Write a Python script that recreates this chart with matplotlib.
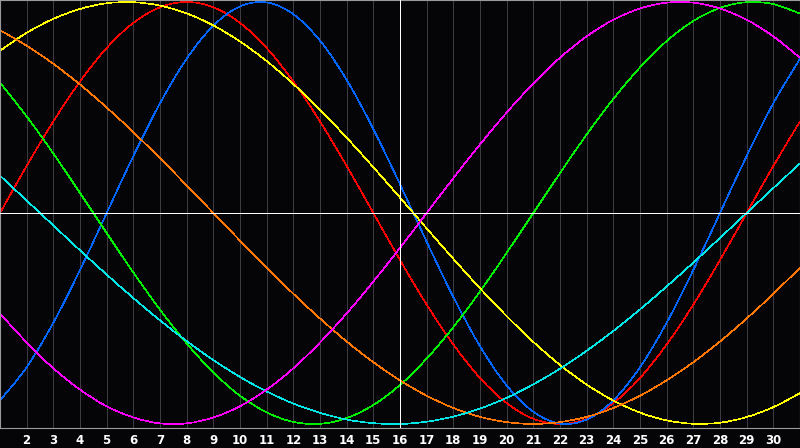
import matplotlib
matplotlib.use("Agg")
import matplotlib.pyplot as plt
from matplotlib.path import Path
from matplotlib.patches import PathPatch

# Days of the month shown on the chart
days = list(range(1, 32))
tick_days = list(range(2, 31))

# Cycle values per day (-1 .. 1)
red = [0.000, 0.223, 0.434, 0.623, 0.782, 0.901, 0.975, 1.000, 0.975, 0.901, 0.782,
       0.623, 0.434, 0.223, 0.000, -0.223, -0.434, -0.623, -0.782, -0.901, -0.975,
       -1.000, -0.975, -0.901, -0.782, -0.623, -0.434, -0.223, 0.000, 0.223, 0.434]
blue = [-0.888, -0.731, -0.520, -0.270, 0.000, 0.270, 0.520, 0.731, 0.888, 0.979, 0.998,
        0.942, 0.817, 0.631, 0.398, 0.136, -0.136, -0.398, -0.631, -0.817, -0.942,
        -0.998, -0.979, -0.888, -0.731, -0.520, -0.270, 0.000, 0.270, 0.520, 0.731]
green = [0.618, 0.458, 0.282, 0.095, -0.095, -0.282, -0.458, -0.618, -0.756, -0.866, -0.945,
         -0.990, -0.999, -0.972, -0.910, -0.815, -0.690, -0.541, -0.372, -0.189, 0.000,
         0.189, 0.372, 0.541, 0.690, 0.815, 0.910, 0.972, 0.999, 0.990, 0.945]
yellow = [0.769, 0.854, 0.920, 0.967, 0.994, 0.999, 0.983, 0.946, 0.889, 0.813, 0.720,
          0.611, 0.489, 0.357, 0.217, 0.073, -0.073, -0.217, -0.357, -0.489, -0.611,
          -0.720, -0.813, -0.889, -0.946, -0.983, -0.999, -0.994, -0.967, -0.920, -0.854]
orange = [0.866, 0.793, 0.707, 0.609, 0.500, 0.383, 0.259, 0.131, 0.000, -0.131, -0.259,
          -0.383, -0.500, -0.609, -0.707, -0.793, -0.866, -0.924, -0.966, -0.991, -1.000,
          -0.991, -0.966, -0.924, -0.866, -0.793, -0.707, -0.609, -0.500, -0.383, -0.259]
cyan = [0.177, 0.059, -0.059, -0.177, -0.292, -0.403, -0.509, -0.607, -0.697, -0.777, -0.846,
        -0.903, -0.947, -0.979, -0.996, -1.000, -0.989, -0.965, -0.927, -0.876, -0.812,
        -0.738, -0.653, -0.559, -0.457, -0.348, -0.235, -0.118, 0.000, 0.118, 0.235]
magenta = [-0.476, -0.614, -0.736, -0.837, -0.916, -0.969, -0.997, -0.997, -0.969, -0.916, -0.837,
           -0.736, -0.614, -0.476, -0.325, -0.165, 0.000, 0.165, 0.325, 0.476, 0.614,
           0.736, 0.837, 0.916, 0.969, 0.997, 0.997, 0.969, 0.916, 0.837, 0.736]


def smooth_path(xs, ys):
    # Bezier path through the daily values (Catmull-Rom style handles)
    verts = [(xs[0], ys[0])]
    codes = [Path.MOVETO]
    n = len(xs)
    for i in range(n - 1):
        x0, y0 = xs[max(i - 1, 0)], ys[max(i - 1, 0)]
        x1, y1 = xs[i], ys[i]
        x2, y2 = xs[i + 1], ys[i + 1]
        x3, y3 = xs[min(i + 2, n - 1)], ys[min(i + 2, n - 1)]
        verts += [(x1 + (x2 - x0) / 6, y1 + (y2 - y0) / 6),
                  (x2 - (x3 - x1) / 6, y2 - (y3 - y1) / 6),
                  (x2, y2)]
        codes += [Path.CURVE4] * 3
    return Path(verts, codes)


def main():
    bg = "#050508"
    fig = plt.figure(figsize=(8, 4.48), dpi=100, facecolor=bg)
    ax = fig.add_axes([0, 20 / 448, 1, 428 / 448])
    ax.set_facecolor(bg)
    ax.set_xlim(1, 31)
    ax.set_ylim(-1.019, 1.0095)

    # Grid: one dark line per day, white centre cross
    for d in tick_days:
        ax.axvline(d, color="#3c3c42", lw=0.6, zorder=1, antialiased=False)
    ax.axvline(16, color="white", lw=0.6, zorder=3, antialiased=False)
    ax.axhline(0, color="white", lw=0.6, zorder=3, antialiased=False)

    series = [(red, "#ff0000"), (blue, "#0066ff"), (green, "#00ee00"),
              (yellow, "#ffff00"), (orange, "#ff7700"), (cyan, "#00e6e6"),
              (magenta, "#ff00ff")]
    for values, col in series:
        ax.add_patch(PathPatch(smooth_path(days, values), fill=False, edgecolor=col,
                               lw=0.45, zorder=2, antialiased=False))

    for side in ax.spines.values():
        side.set_color("#9a9a9a")
        side.set_linewidth(0.8)

    ax.set_yticks([])
    ax.set_xticks(tick_days)
    ax.set_xticklabels([str(d) for d in tick_days], color="white",
                       fontsize=8.5, fontweight="bold")
    ax.tick_params(axis="x", length=0, pad=4)

    fig.savefig("out.png", dpi=100, facecolor=bg)


if __name__ == "__main__":
    main()
